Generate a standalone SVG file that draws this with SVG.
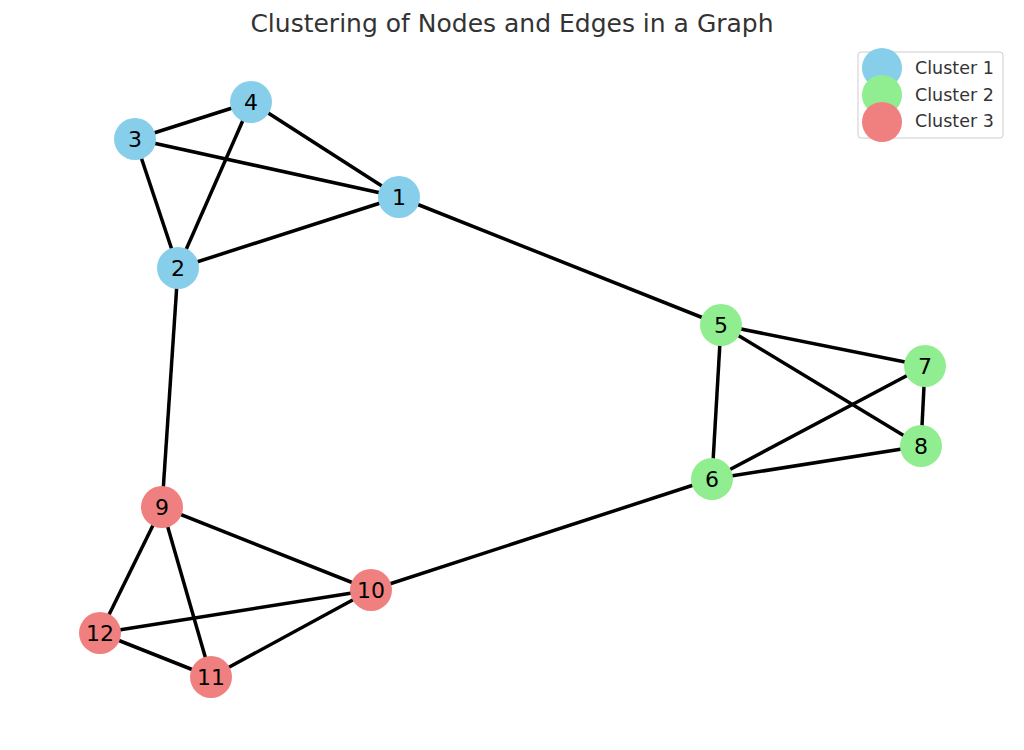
<svg xmlns="http://www.w3.org/2000/svg" width="1024" height="750" viewBox="0 0 1024 750">
<style>
.e{stroke:#000;stroke-width:3.5;fill:none}
.c1{fill:#87ceeb}.c2{fill:#90ee90}.c3{fill:#f08080}
.l{font-family:"DejaVu Sans",sans-serif;font-size:22px;fill:#000;text-anchor:middle;dominant-baseline:central}
.lg{font-family:"DejaVu Sans",sans-serif;font-size:17.5px;fill:#333}
</style>
<rect width="1024" height="750" fill="#fff"/>
<text x="512" y="32" text-anchor="middle" font-family="DejaVu Sans, sans-serif" font-size="25" fill="#333">Clustering of Nodes and Edges in a Graph</text>
<g id="edges">
<line class="e" x1="135" y1="139" x2="251" y2="102"/>
<line class="e" x1="135" y1="139" x2="399" y2="197"/>
<line class="e" x1="135" y1="139" x2="178" y2="268"/>
<line class="e" x1="251" y1="102" x2="399" y2="197"/>
<line class="e" x1="251" y1="102" x2="178" y2="268"/>
<line class="e" x1="178" y1="268" x2="399" y2="197"/>
<line class="e" x1="399" y1="197" x2="721" y2="325"/>
<line class="e" x1="178" y1="268" x2="162" y2="507"/>
<line class="e" x1="721" y1="325" x2="925" y2="366"/>
<line class="e" x1="721" y1="325" x2="921" y2="446"/>
<line class="e" x1="721" y1="325" x2="712" y2="479"/>
<line class="e" x1="712" y1="479" x2="925" y2="366"/>
<line class="e" x1="712" y1="479" x2="921" y2="446"/>
<line class="e" x1="925" y1="366" x2="921" y2="446"/>
<line class="e" x1="712" y1="479" x2="371" y2="590"/>
<line class="e" x1="162" y1="507" x2="371" y2="590"/>
<line class="e" x1="162" y1="507" x2="100" y2="633"/>
<line class="e" x1="162" y1="507" x2="211" y2="677"/>
<line class="e" x1="100" y1="633" x2="371" y2="590"/>
<line class="e" x1="100" y1="633" x2="211" y2="677"/>
<line class="e" x1="211" y1="677" x2="371" y2="590"/>
</g>
<g id="n1"><circle class="c1" cx="399" cy="197" r="21"/><text class="l" x="399" y="197">1</text></g>
<g id="n2"><circle class="c1" cx="178" cy="268" r="21"/><text class="l" x="178" y="268">2</text></g>
<g id="n3"><circle class="c1" cx="135" cy="139" r="21"/><text class="l" x="135" y="139">3</text></g>
<g id="n4"><circle class="c1" cx="251" cy="102" r="21"/><text class="l" x="251" y="102">4</text></g>
<g id="n5"><circle class="c2" cx="721" cy="325" r="21"/><text class="l" x="721" y="325">5</text></g>
<g id="n6"><circle class="c2" cx="712" cy="479" r="21"/><text class="l" x="712" y="479">6</text></g>
<g id="n7"><circle class="c2" cx="925" cy="366" r="21"/><text class="l" x="925" y="366">7</text></g>
<g id="n8"><circle class="c2" cx="921" cy="446" r="21"/><text class="l" x="921" y="446">8</text></g>
<g id="n9"><circle class="c3" cx="162" cy="507" r="21"/><text class="l" x="162" y="507">9</text></g>
<g id="n10"><circle class="c3" cx="371" cy="590" r="21"/><text class="l" x="371" y="590">10</text></g>
<g id="n11"><circle class="c3" cx="211" cy="677" r="21"/><text class="l" x="211" y="677">11</text></g>
<g id="n12"><circle class="c3" cx="100" cy="633" r="21"/><text class="l" x="100" y="633">12</text></g>
<g id="legend">
<rect x="858" y="52" width="145" height="86" rx="3" fill="#fff" fill-opacity="0.8" stroke="#ccc" stroke-width="1"/>
<circle class="c1" cx="882" cy="68" r="20"/>
<circle class="c2" cx="882" cy="95" r="20"/>
<circle class="c3" cx="882" cy="122" r="20"/>
<text class="lg" x="915" y="74">Cluster 1</text>
<text class="lg" x="915" y="101">Cluster 2</text>
<text class="lg" x="915" y="127">Cluster 3</text>
</g>
</svg>
